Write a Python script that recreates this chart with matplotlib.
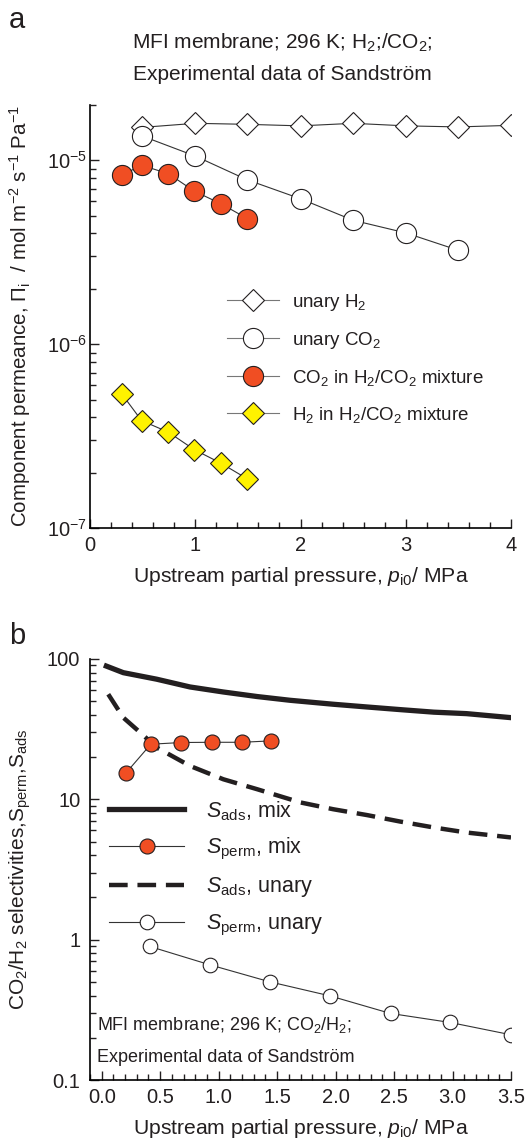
import matplotlib
matplotlib.use("Agg")
import matplotlib.pyplot as plt
import numpy as np
from matplotlib.ticker import LogLocator, MultipleLocator, FixedLocator, FuncFormatter, NullFormatter

plt.rcParams['font.family'] = ['Liberation Sans', 'DejaVu Sans']
plt.rcParams['mathtext.fontset'] = 'custom'
plt.rcParams['mathtext.rm'] = 'Liberation Sans'
plt.rcParams['mathtext.it'] = 'Liberation Sans:italic'
plt.rcParams['mathtext.bf'] = 'Liberation Sans:bold'

# ---- panel a data: permeance vs upstream partial pressure ----
p_h2_unary = [0.49, 1.0, 1.49, 2.0, 2.5, 3.0, 3.5, 4.0]
perm_h2_unary = [1.51e-5, 1.59e-5, 1.57e-5, 1.54e-5, 1.59e-5, 1.54e-5, 1.52e-5, 1.55e-5]
p_co2_unary = [0.49, 1.0, 1.49, 2.0, 2.5, 3.0, 3.5]
perm_co2_unary = [1.36e-5, 1.055e-5, 7.85e-6, 6.18e-6, 4.72e-6, 4.03e-6, 3.24e-6]
p_mix = [0.3, 0.49, 0.745, 0.99, 1.245, 1.495]
perm_co2_mix = [8.3e-6, 9.4e-6, 8.46e-6, 6.8e-6, 5.8e-6, 4.82e-6]
perm_h2_mix = [5.38e-7, 3.84e-7, 3.32e-7, 2.67e-7, 2.25e-7, 1.85e-7]

# ---- panel b data: selectivities ----
p_sads = [0.04, 0.185, 0.47, 0.755, 1.04, 1.33, 1.61, 1.98, 2.27, 2.55, 2.84, 3.12, 3.5]
sads_mix = [89, 79.9, 71.8, 63.2, 58.2, 54, 50.8, 47.6, 45.5, 43.6, 41.8, 40.8, 38.2]
p_sads_u = [0.056, 0.185, 0.33, 0.47, 0.755, 1.04, 1.33, 1.70, 1.98, 2.27, 2.55, 2.84, 3.12, 3.5]
sads_unary = [56.1, 38.2, 29.9, 23.4, 17.3, 13.9, 11.8, 9.5, 8.5, 7.72, 6.95, 6.3, 5.8, 5.35]
p_sperm_mix = [0.21, 0.42, 0.68, 0.94, 1.20, 1.45]
sperm_mix = [15.5, 24.7, 25.4, 25.5, 25.5, 26.1]
p_sperm_u = [0.41, 0.93, 1.44, 1.95, 2.47, 2.98, 3.5]
sperm_unary = [0.895, 0.66, 0.50, 0.398, 0.298, 0.257, 0.21]

red = "#f04e23"
yellow = "#fff200"
txt = "#231f20"
W, H = 526, 1140

fig = plt.figure(figsize=(W/100, H/100), dpi=100)
axa = fig.add_axes([90/W, 1-528/H, 421/W, 423/H])
axb = fig.add_axes([90/W, 1-1080/H, 421/W, 421/H])

for ax in (axa, axb):
    ax.spines['top'].set_visible(False)
    ax.spines['right'].set_visible(False)
    ax.spines['left'].set_linewidth(1.2)
    ax.spines['bottom'].set_linewidth(1.2)
    ax.set_yscale('log')
    ax.tick_params(which='both', direction='in', colors=txt, labelsize=14.5, width=1.0)
    ax.tick_params(which='major', length=6.5)
    ax.tick_params(which='minor', length=4.5)
    ax.yaxis.set_minor_locator(LogLocator(base=10, subs=np.arange(2, 10)))
    ax.yaxis.set_minor_formatter(NullFormatter())

# ---------------- panel a ----------------
lc = "#333333"
axa.plot(p_h2_unary, perm_h2_unary, color=lc, lw=0.8, marker='D', ms=11.5, mfc='white', mec=txt, mew=0.8,
         label=r"unary H$_2$", zorder=3)
axa.plot(p_co2_unary, perm_co2_unary, color=lc, lw=0.8, marker='o', ms=14.5, mfc='white', mec=txt, mew=0.8,
         label=r"unary CO$_2$", zorder=4)
axa.plot(p_mix, perm_co2_mix, color=lc, lw=0.8, marker='o', ms=14.5, mfc=red, mec=txt, mew=0.8,
         label=r"CO$_2$ in H$_2$/CO$_2$ mixture", zorder=5)
axa.plot(p_mix, perm_h2_mix, color=lc, lw=0.8, marker='D', ms=11.5, mfc=yellow, mec=txt, mew=0.8,
         label=r"H$_2$ in H$_2$/CO$_2$ mixture", zorder=5)
axa.set_xlim(0, 4)
axa.set_ylim(1e-7, 2e-5)
axa.xaxis.set_major_locator(MultipleLocator(1))
axa.xaxis.set_minor_locator(MultipleLocator(0.2))
axa.tick_params(axis='x', which='major', pad=6)
axa.tick_params(axis='y', which='major', pad=2)
axa.set_xlabel(r"Upstream partial pressure, $p_\mathrm{i0}$/ MPa", fontsize=15.2, color=txt, labelpad=7)
axa.set_ylabel(r"Component permeance, $\Pi_\mathrm{i}$  / mol m$^{-2}$ s$^{-1}$ Pa$^{-1}$", fontsize=14.8, color=txt)
axa.yaxis.set_label_coords((33-90)/421, 0.5)
leg = axa.legend(loc='upper left', bbox_to_anchor=(227/W, 1-292/H), bbox_transform=fig.transFigure,
                 frameon=False, fontsize=13.5, handlelength=2.75, handletextpad=0.7, labelspacing=0.9,
                 borderpad=0, borderaxespad=0)
for t in leg.get_texts():
    t.set_color(txt)
for h in leg.get_lines():
    h.set_color("#777777")

fig.text(282/W, 1-43/H, r"MFI membrane; 296 K; H$_2$;/CO$_2$;", ha='center', va='center', fontsize=15, color=txt)
fig.text(282/W, 1-75/H, "Experimental data of Sandström", ha='center', va='center', fontsize=15, color=txt)
fig.text(9/W, 1-20/H, "a", ha='left', va='center', fontsize=21, color=txt)

# ---------------- panel b ----------------
axb.plot(p_sads, sads_mix, color=txt, lw=3.8, label=r"$S_\mathrm{ads}$, mix", zorder=3)
axb.plot(p_sperm_mix, sperm_mix, color=lc, lw=0.8, marker='o', ms=10.8, mfc=red, mec=txt, mew=0.8,
         label=r"$S_\mathrm{perm}$, mix", zorder=5)
axb.plot(p_sads_u, sads_unary, color=txt, lw=3.2, ls=(0, (4.2, 2.2)), label=r"$S_\mathrm{ads}$, unary", zorder=4)
axb.plot(p_sperm_u, sperm_unary, color=lc, lw=0.8, marker='o', ms=10.5, mfc='white', mec=txt, mew=0.8,
         label=r"$S_\mathrm{perm}$, unary", zorder=5)
axb.set_xlim(-0.1, 3.5)
axb.set_ylim(0.1, 100)
axb.xaxis.set_major_locator(MultipleLocator(0.5))
axb.xaxis.set_minor_locator(MultipleLocator(0.1))
axb.xaxis.set_major_formatter(FuncFormatter(lambda v, pos: f"{v:.1f}"))
axb.yaxis.set_major_locator(FixedLocator([0.1, 1, 10, 100]))
axb.yaxis.set_major_formatter(FuncFormatter(lambda v, pos: f"{v:g}"))
axb.tick_params(axis='x', which='major', pad=6)
axb.tick_params(axis='y', which='major', pad=7)
axb.set_xlabel(r"Upstream partial pressure, $p_\mathrm{i0}$/ MPa", fontsize=15.2, color=txt, labelpad=7)
axb.set_ylabel(r"CO$_2$/H$_2$ selectivities,S$_\mathrm{perm}$,S$_\mathrm{ads}$", fontsize=15, color=txt)
axb.yaxis.set_label_coords((33-90)/421, 0.5)
legb = axb.legend(loc='upper left', bbox_to_anchor=(109/W, 1-799/H), bbox_transform=fig.transFigure,
                  frameon=False, fontsize=15.5, handlelength=3.5, handletextpad=1.0, labelspacing=0.62,
                  borderpad=0, borderaxespad=0)
for t in legb.get_texts():
    t.set_color(txt)

fig.text(97/W, 1-1025/H, r"MFI membrane; 296 K; CO$_2$/H$_2$;", ha='left', va='center', fontsize=13, color=txt)
fig.text(97/W, 1-1058/H, "Experimental data of Sandström", ha='left', va='center', fontsize=13, color=txt)
fig.text(9/W, 1-636/H, "b", ha='left', va='center', fontsize=21, color=txt)

fig.savefig("out.png", dpi=100)
